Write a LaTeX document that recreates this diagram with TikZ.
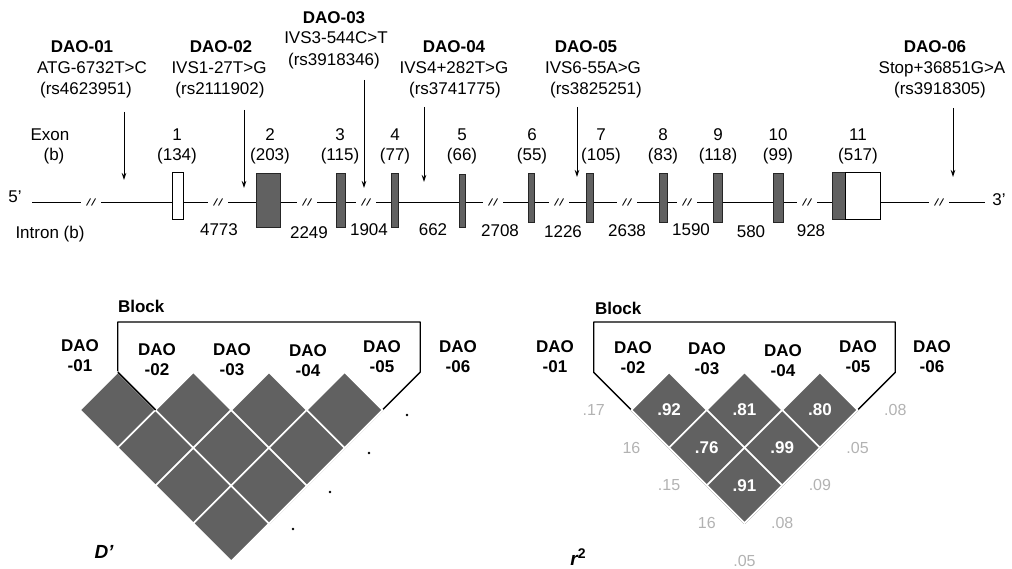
\documentclass[tikz,border=0pt]{standalone}
\usepackage{fontspec}
\setmainfont{Liberation Sans}
\usetikzlibrary{arrows.meta,shapes.geometric}
\begin{document}
\begin{tikzpicture}[x=1pt,y=-1pt,
  every node/.style={font=\fontsize{17}{20}\selectfont, inner sep=0pt, outer sep=0pt},
  lbl/.style={anchor=base},
  blbl/.style={anchor=base, font=\fontsize{17}{20}\selectfont\bfseries},
  snp/.style={draw=black, line width=0.9pt, -{Stealth[length=7pt,width=4.5pt]}},
  gline/.style={draw=black, line width=0.8pt},
  slash/.style={draw=black, line width=0.9pt},
  exond/.style={draw=black!85, fill=black!62, line width=0.6pt},
  exonw/.style={draw=black, fill=white, line width=0.9pt},
  ldcell/.style={diamond, aspect=1, minimum width=75.6pt, minimum height=75.6pt,
                 fill=black!62, draw=white, line width=1.6pt},
  ldnum/.style={font=\fontsize{17}{20}\selectfont\bfseries, text=white},
  faint/.style={font=\fontsize{16}{20}\selectfont, text=black!30},
  mk/.style={align=center, font=\fontsize{17}{20}\selectfont\bfseries},
  blockline/.style={draw=black, line width=1.3pt, line join=round},
  plotlbl/.style={font=\fontsize{19}{20}\selectfont\bfseries\itshape}
]
\useasboundingbox (0,0) rectangle (1012,569);

% ---------------- SNP labels ----------------
\node[blbl] (t1a) at (82,53) {DAO-01};
\node[lbl]  (t1b) at (92,74) {ATG-6732T>C};
\node[lbl]  (t1c) at (86,95) {(rs4623951)};
\node[blbl] (t2a) at (221,53) {DAO-02};
\node[lbl]  (t2b) at (219,74) {IVS1-27T>G};
\node[lbl]  (t2c) at (220,95) {(rs2111902)};
\node[blbl] (t3a) at (334,24) {DAO-03};
\node[lbl]  (t3b) at (336,44) {IVS3-544C>T};
\node[lbl]  (t3c) at (334,66) {(rs3918346)};
\node[blbl] (t4a) at (454,53) {DAO-04};
\node[lbl]  (t4b) at (454,74) {IVS4+282T>G};
\node[lbl]  (t4c) at (455,95) {(rs3741775)};
\node[blbl] (t5a) at (586,53) {DAO-05};
\node[lbl]  (t5b) at (593,74) {IVS6-55A>G};
\node[lbl]  (t5c) at (596,95) {(rs3825251)};
\node[blbl] (t6a) at (935,53) {DAO-06};
\node[lbl]  (t6b) at (942,74) {Stop+36851G>A};
\node[lbl]  (t6c) at (940,95) {(rs3918305)};

% arrows
\foreach \k/\x/\ya/\yb in {1/124/112/180, 2/244/110/188, 3/364/80/188, 4/424/107/182, 5/577/107/177, 6/953/108/177}{
  \coordinate (s\k a) at (\x,\ya);
  \coordinate (s\k b) at (\x,\yb);
  \draw[snp] (s\k a) -- (s\k b);
}

% ---------------- exon labels ----------------
\node[lbl] (exl) at (50,141) {Exon};
\node[lbl] (exb) at (54,161) {(b)};
\foreach \n/\x/\len in {1/177/134, 2/270/203, 3/340/115, 4/395/77, 5/462/66, 6/532/55, 7/601/105, 8/663/83, 9/718/118, 10/778/99, 11/858/517}{
  \node[lbl] (en\n) at (\x,141) {\n};
  \node[lbl] (el\n) at (\x,161) {(\len)};
}

% ---------------- gene line ----------------
\node[lbl] (p5) at (15,203) {5'};
\node[lbl] (p3) at (999,206) {3'};
\coordinate (g0) at (32,202);
\coordinate (g11) at (985,202);
\foreach \c [count=\k] in {91,218,307,366,493,559,627,687,807,939}{
  \coordinate (bl\k) at (\c-10,202);
  \coordinate (br\k) at (\c+10,202);
  \draw[slash] (\c-4.5,205.5) -- (\c-0.5,198.5) (\c+0.5,205.5) -- (\c+4.5,198.5);
}
\draw[gline] (g0) -- (bl1);
\foreach \a/\b in {1/2,2/3,3/4,4/5,5/6,6/7,7/8,8/9,9/10}{
  \draw[gline] (br\a) -- (bl\b);
}
\draw[gline] (br10) -- (g11);

% exons
\foreach \n/\xa/\xb/\ya/\yb/\st in {1/172/183/172/219/exonw, 2/256/280/173/227/exond, 3/336/345/173/227/exond, 4/391/398/173/227/exond, 5/459/465/174/227/exond, 6/528/534/173/222/exond, 7/586/593/173/222/exond, 8/659/667/173/222/exond, 9/713/722/173/222/exond, 10/773/783/173/222/exond, 11a/832/845/172/219/exond, 11b/845/880/172/219/exonw}{
  \pgfmathsetmacro\w{\xb-\xa}
  \pgfmathsetmacro\h{\yb-\ya}
  \node[\st, anchor=north west, minimum width=\w pt, minimum height=\h pt] (e\n) at (\xa,\ya) {};
}

% intron labels
\node[lbl] (intr) at (50,239) {Intron (b)};
\foreach \x/\y/\v [count=\k] in {219/236/4773, 309/239/2249, 369/236/1904, 433/236/662, 500/237/2708, 563/238/1226, 627/237/2638, 691/236/1590, 751/238/580, 811/237/928}{
  \node[lbl] (in\k) at (\x,\y) {\v};
}

% ---------------- D' plot ----------------
\draw[blockline] (117.8,322) -- (420.2,322) -- (420.2,372.2) -- (269,523.4) -- (117.8,372.2) -- cycle;
\node[anchor=west, font=\fontsize{17}{20}\selectfont\bfseries] (dblock) at (118,306) {Block};
\foreach \i/\j in {1/2,1/3,1/4,1/5,2/3,2/4,2/5,3/4,3/5,4/5}{
  \node[ldcell] (D\i\j) at ({80+(\i+\j-2)*37.8},{410+(\j-\i-1)*37.8}) {};
}
\draw[blockline] (D12.north) -- (D12.east);
\foreach \x/\y [count=\k] in {407/415, 369/453, 330/492, 293/529}{
  \fill (\x,\y) circle (1.4pt);
}
\foreach \k/\x/\y in {1/80/356, 2/157/360, 3/232/360, 4/308/361, 5/382/357, 6/458/357}{
  \node[mk] (dm\k) at (\x,\y) {DAO\\-0\k};
}
\node[plotlbl] (dlab) at (104,552) {D'};

% ---------------- r^2 plot ----------------
\draw[blockline] (593.7,322) -- (895.3,322) -- (895.3,372.3) -- (744.5,523.1) -- (593.7,372.3) -- cycle;
\node[anchor=west, font=\fontsize{17}{20}\selectfont\bfseries] (rblock) at (595,308) {Block};
\foreach \i/\j/\v in {2/3/.92, 3/4/.81, 4/5/.80, 2/4/.76, 3/5/.99, 2/5/.91}{
  \node[ldcell, minimum width=75.4pt, minimum height=75.4pt] (R\i\j) at ({556+(\i+\j-2)*37.7},{410+(\j-\i-1)*37.7}) {};
  \node[ldnum] (Rv\i\j) at (R\i\j) {\v};
}
\foreach \i/\j/\v in {1/2/.17, 1/3/16, 1/4/.15, 1/5/16, 1/6/.05, 5/6/.08, 4/6/.05, 3/6/.09, 2/6/.08}{
  \node[faint] (Rf\i\j) at ({556+(\i+\j-2)*37.7},{410+(\j-\i-1)*37.7}) {\v};
}
\foreach \k/\x/\y in {1/555/357, 2/633/358, 3/707/359, 4/783/361, 5/858/357, 6/932/357}{
  \node[mk] (rm\k) at (\x,\y) {DAO\\-0\k};
}
\node[plotlbl] (rlab) at (578,557) {r\raisebox{7pt}{\fontsize{14}{14}\selectfont\bfseries\upshape 2}};
\end{tikzpicture}
\end{document}
